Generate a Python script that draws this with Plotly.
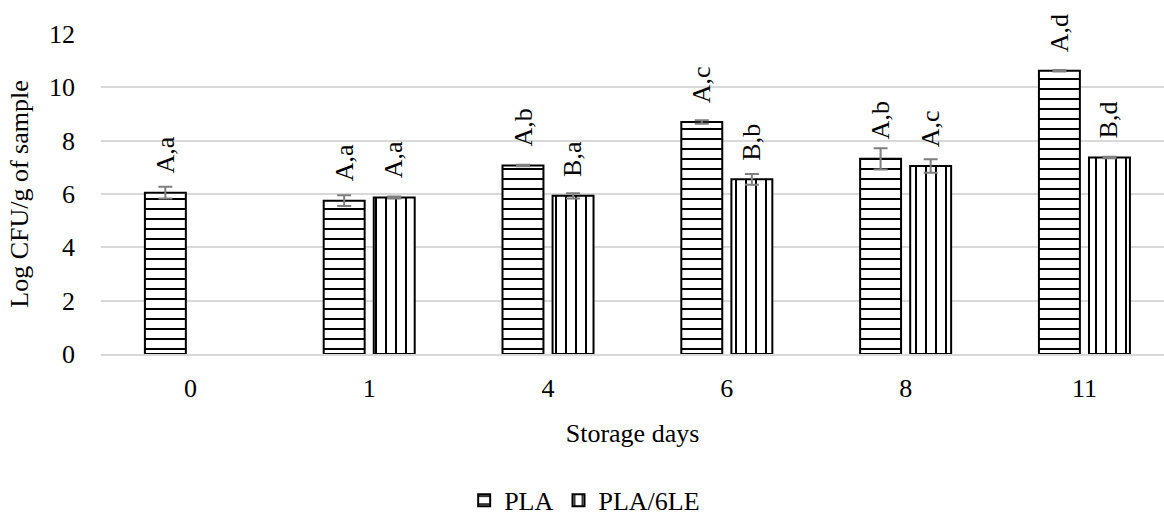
import plotly.graph_objects as go

categories = ["0", "1", "4", "6", "8", "11"]
pla = [6.05, 5.75, 7.07, 8.70, 7.32, 10.62]
pla_err = [0.22, 0.20, 0.03, 0.07, 0.40, 0.03]
pla6le = [None, 5.87, 5.93, 6.55, 7.05, 7.37]
pla6le_err = [None, 0.04, 0.10, 0.20, 0.25, 0.03]
pla_labels = ["A,a", "A,a", "A,b", "A,c", "A,b", "A,d"]
pla6le_labels = [None, "A,a", "B,a", "B,b", "A,c", "B,d"]
y_ticks = [0, 2, 4, 6, 8, 10, 12]

FONT = "Liberation Serif"
FS = 26
xpos = list(range(len(categories)))
BW = 0.229
SHIFT = 0.14

fig = go.Figure()
fig.add_trace(go.Bar(
    name="PLA", x=xpos, y=pla, width=BW, offset=-SHIFT - BW / 2,
    marker=dict(color="white", line=dict(color="black", width=2),
                pattern=dict(shape="-", size=10, solidity=0.2, fgcolor="black", bgcolor="white", fgopacity=1)),
    error_y=dict(type="data", array=pla_err, color="#7f7f7f", thickness=2, width=7),
))
fig.add_trace(go.Bar(
    name="PLA/6LE", x=xpos, y=pla6le, width=BW, offset=SHIFT - BW / 2,
    marker=dict(color="white", line=dict(color="black", width=2),
                pattern=dict(shape="|", size=10, solidity=0.2, fgcolor="black", bgcolor="white", fgopacity=1)),
    error_y=dict(type="data", array=pla6le_err, color="#7f7f7f", thickness=2, width=7),
))

for i, (v, t) in enumerate(zip(pla, pla_labels)):
    fig.add_annotation(x=i - SHIFT, y=v, text=t, textangle=-90, showarrow=False,
                       xanchor="center", yanchor="bottom", yshift=17,
                       font=dict(family=FONT, size=FS, color="black"))
for i, (v, t) in enumerate(zip(pla6le, pla6le_labels)):
    if v is None:
        continue
    fig.add_annotation(x=i + SHIFT, y=v, text=t, textangle=-90, showarrow=False,
                       xanchor="center", yanchor="bottom", yshift=17,
                       font=dict(family=FONT, size=FS, color="black"))

fig.update_layout(
    width=1164, height=528,
    margin=dict(l=101, r=0, t=34, b=174),
    paper_bgcolor="white", plot_bgcolor="white",
    font=dict(family=FONT, size=FS, color="black"),
    barmode="overlay",
    showlegend=True,
    legend=dict(orientation="h", x=0.455, xanchor="center", y=-0.457, yanchor="middle",
                font=dict(family=FONT, size=FS), itemclick=False),
    xaxis=dict(range=[-0.5, 5.445], tickmode="array", tickvals=xpos, ticktext=categories,
               showgrid=False, showline=True, linecolor="#d9d9d9", linewidth=2,
               ticks="", zeroline=False, ticklabelstandoff=10,
               title=dict(text="Storage days", standoff=22, font=dict(family=FONT, size=FS))),
    yaxis=dict(range=[0, 12], tickvals=y_ticks, showgrid=True, gridcolor="#d9d9d9", gridwidth=2,
               zeroline=False, showline=False, ticks="", ticklabelstandoff=25,
               title=dict(text="Log CFU/g of sample", standoff=12, font=dict(family=FONT, size=FS))),
)

fig.write_html("out.html")
